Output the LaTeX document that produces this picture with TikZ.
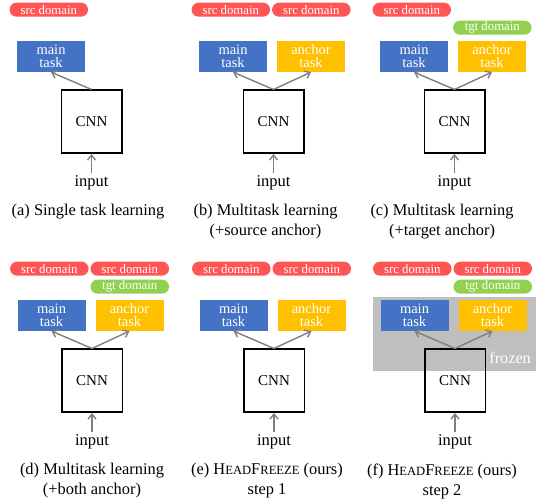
\documentclass[tikz,border=0pt]{standalone}
\usepackage{fontspec}
\setmainfont{Liberation Serif}
\usetikzlibrary{arrows.meta}

\definecolor{srcred}{RGB}{255,85,85}
\definecolor{tgtgreen}{RGB}{146,208,80}
\definecolor{mainblue}{RGB}{68,114,196}
\definecolor{anchororange}{RGB}{255,192,0}
\definecolor{frozengray}{RGB}{191,191,191}

\newcommand{\fsc}[1]{{\fontsize{12.6pt}{12.6pt}\selectfont #1}}
\newcommand{\headfreeze}{H\fsc{EAD}F\fsc{REEZE}}

\begin{document}
\begin{tikzpicture}[x=1pt,y=-1pt]
	\tikzstyle{dompill} = [rounded corners=7pt, minimum width=78.5pt, minimum height=14pt, inner sep=0pt, text=white, font=\fontsize{12.8pt}{13pt}\selectfont]
	\tikzstyle{srcdom} = [dompill, fill=srcred]
	\tikzstyle{tgtdom} = [dompill, fill=tgtgreen]
	\tikzstyle{taskbox} = [minimum width=68pt, minimum height=31pt, inner sep=0pt, align=center, text=white, font=\fontsize{14.5pt}{13pt}\selectfont]
	\tikzstyle{cnnbox} = [draw=black, line width=1.5pt, minimum width=60.5pt, minimum height=63pt, font=\fontsize{15pt}{15pt}\selectfont]
	\tikzstyle{inlabel} = [inner sep=2.5pt, font=\fontsize{16.5pt}{16.5pt}\selectfont]
	\tikzstyle{capt} = [align=center, inner sep=0pt, font=\fontsize{16.4pt}{20pt}\selectfont]
	\tikzstyle{flow} = [-{Straight Barb[length=5pt,width=8pt]}, line width=1.4pt, color=gray]

	\useasboundingbox (0,0) rectangle (536,501);

	% (a) SINGLE TASK %
	\begin{scope}[shift={(-2,0)}]
	\node[srcdom] (a-src) at (50.8,9.7) {src domain};
	\node[taskbox, fill=mainblue] (a-main) at (53,56.4) {main\\task};
	\node[cnnbox] (a-cnn) at (93.5,121.7) {CNN};
	\node[inlabel] (a-in) at (93.5,183) {input};
	\node[capt] (a-cap) at (90,212) {(a) Single task learning};
	\draw[flow] (a-in) -- (a-cnn);
	\draw[flow] (a-cnn.north) -- (a-main.south);
	\end{scope}

	% (b) SOURCE ANCHOR %
	\begin{scope}[shift={(180,0)}]
	\node[srcdom] (b-src1) at (50.8,9.7) {src domain};
	\node[srcdom] (b-src2) at (131.3,9.7) {src domain};
	\node[taskbox, fill=mainblue] (b-main) at (53,56.4) {main\\task};
	\node[taskbox, fill=anchororange] (b-anchor) at (131,56.4) {anchor\\task};
	\node[cnnbox] (b-cnn) at (93.5,121.7) {CNN};
	\node[inlabel] (b-in) at (93.5,183) {input};
	\node[capt] (b-cap) at (85.5,222) {(b) Multitask learning\\(+source anchor)};
	\draw[flow] (b-in) -- (b-cnn);
	\draw[flow] (b-cnn.north) -- (b-main.south);
	\draw[flow] (b-cnn.north) -- (b-anchor.south);
	\end{scope}

	% (c) TARGET ANCHOR %
	\begin{scope}[shift={(361,0)}]
	\node[srcdom] (c-src) at (50.8,9.7) {src domain};
	\node[tgtdom] (c-tgt) at (131.3,27.7) {tgt domain};
	\node[taskbox, fill=mainblue] (c-main) at (53,56.4) {main\\task};
	\node[taskbox, fill=anchororange] (c-anchor) at (131,56.4) {anchor\\task};
	\node[cnnbox] (c-cnn) at (93.5,121.7) {CNN};
	\node[inlabel] (c-in) at (93.5,183) {input};
	\node[capt] (c-cap) at (81,222) {(c) Multitask learning\\(+target anchor)};
	\draw[flow] (c-in) -- (c-cnn);
	\draw[flow] (c-cnn.north) -- (c-main.south);
	\draw[flow] (c-cnn.north) -- (c-anchor.south);
	\end{scope}

	% (d) BOTH ANCHOR %
	\begin{scope}[shift={(-1.5,259)}]
	\node[srcdom] (d-src1) at (50.8,9.7) {src domain};
	\node[srcdom] (d-src2) at (131.3,9.7) {src domain};
	\node[tgtdom] (d-tgt) at (131.3,27.7) {tgt domain};
	\node[taskbox, fill=mainblue] (d-main) at (53,56.4) {main\\task};
	\node[taskbox, fill=anchororange] (d-anchor) at (131,56.4) {anchor\\task};
	\node[cnnbox] (d-cnn) at (93.5,121.7) {CNN};
	\node[inlabel] (d-in) at (93.5,183) {input};
	\node[capt] (d-cap) at (93.5,222) {(d) Multitask learning\\(+both anchor)};
	\draw[flow] (d-in) -- (d-cnn);
	\draw[flow] (d-cnn.north) -- (d-main.south);
	\draw[flow] (d-cnn.north) -- (d-anchor.south);
	\end{scope}

	% (e) HEADFREEZE STEP 1 %
	\begin{scope}[shift={(180.5,259)}]
	\node[srcdom] (e-src1) at (50.8,9.7) {src domain};
	\node[srcdom] (e-src2) at (131.3,9.7) {src domain};
	\node[taskbox, fill=mainblue] (e-main) at (53,56.4) {main\\task};
	\node[taskbox, fill=anchororange] (e-anchor) at (131,56.4) {anchor\\task};
	\node[cnnbox] (e-cnn) at (93.5,121.7) {CNN};
	\node[inlabel] (e-in) at (93.5,183) {input};
	\node[capt] (e-cap) at (86.5,222) {(e) \headfreeze{} (ours)\\step 1};
	\draw[flow] (e-in) -- (e-cnn);
	\draw[flow] (e-cnn.north) -- (e-main.south);
	\draw[flow] (e-cnn.north) -- (e-anchor.south);
	\end{scope}

	% (f) HEADFREEZE STEP 2 %
	\begin{scope}[shift={(361.5,259)}]
	\fill[frozengray] (11.2,37.7) rectangle (174.5,111.7);
	\node[anchor=east, text=white, inner sep=0pt, font=\fontsize{16.2pt}{16pt}\selectfont] (f-frozen) at (169.5,99) {frozen};
	\node[srcdom] (f-src1) at (50.8,9.7) {src domain};
	\node[srcdom] (f-src2) at (131.3,9.7) {src domain};
	\node[tgtdom] (f-tgt) at (131.3,27.7) {tgt domain};
	\node[taskbox, fill=mainblue] (f-main) at (53,56.4) {main\\task};
	\node[taskbox, fill=anchororange] (f-anchor) at (131,56.4) {anchor\\task};
	\node[cnnbox] (f-cnn) at (93.5,121.7) {CNN};
	\node[inlabel] (f-in) at (93.5,183) {input};
	\node[capt] (f-cap) at (80.5,222) {(f) \headfreeze{} (ours)\\step 2};
	\draw[flow] (f-in) -- (f-cnn);
	\draw[flow] (f-cnn.north) -- (f-main.south);
	\draw[flow] (f-cnn.north) -- (f-anchor.south);
	\end{scope}
\end{tikzpicture}
\end{document}
